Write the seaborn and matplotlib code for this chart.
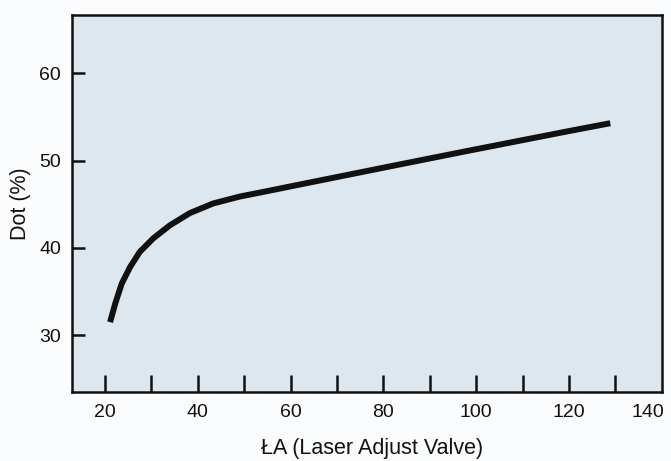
import numpy as np
import pandas as pd
import seaborn as sns
import matplotlib.pyplot as plt
from matplotlib.ticker import FixedLocator

# values
valve = [21.1, 22.2, 23.6, 25.4, 27.5, 30.4, 34.0, 38.3, 43.3, 49.1, 54.8, 61.3,
         80.0, 97.9, 120.0, 128.9]
dot_pct = [31.5, 33.6, 35.9, 37.8, 39.55, 41.1, 42.6, 44.0, 45.1, 45.9, 46.5, 47.2,
           49.2, 51.1, 53.4, 54.3]

x_tick_marks = [20, 30, 40, 50, 60, 70, 80, 90, 100, 110, 120, 130]
x_label_pos = [20, 40, 60, 80, 100, 120, 137]
x_labels = ["20", "40", "60", "80", "100", "120", "140"]
y_ticks = [30, 40, 50, 60]

df = pd.DataFrame({"valve": valve, "dot": dot_pct})

sns.set_theme(style="ticks")
plt.rcParams['font.family'] = ['Liberation Sans', 'DejaVu Sans']

fig = plt.figure(figsize=(6.71, 4.61), dpi=100, facecolor="#fbfcfd")
ax = fig.add_axes([0.1073, 0.1497, 0.879, 0.8178])
ax.set_facecolor("#dce7f0")

sns.lineplot(data=df, x="valve", y="dot", ax=ax, color="#111111", linewidth=4.3,
             solid_capstyle="butt", solid_joinstyle="round")

ax.set_xlim(12.9, 140)
ax.set_ylim(23.5, 66.7)

# tick marks on minor ticks, labels on major ticks
ax.xaxis.remove_overlapping_locs = False
ax.xaxis.set_minor_locator(FixedLocator(x_tick_marks))
ax.set_xticks(x_label_pos)
ax.set_xticklabels(x_labels)
ax.tick_params(axis="x", which="major", length=0, pad=9, labelsize=14, colors="#111111")
ax.tick_params(axis="x", which="minor", direction="in", length=12, width=1.8, color="#111111")

ax.set_yticks(y_ticks)
ax.tick_params(axis="y", direction="in", length=9.5, width=1.8, pad=8, labelsize=14,
               colors="#111111")

for s in ax.spines.values():
    s.set_visible(True)
    s.set_linewidth(1.8)
    s.set_color("#111111")

ax.set_xlabel("ŁA (Laser Adjust Valve)", fontsize=15.5, labelpad=12, color="#111111")
ax.set_ylabel("Dot (%)", fontsize=15.5, labelpad=6, color="#111111")
ax.xaxis.label.set_x(0.508)

fig.savefig("out.png", dpi=100, facecolor=fig.get_facecolor())
